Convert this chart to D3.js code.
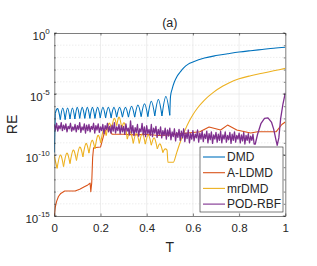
<!DOCTYPE html>
<html>
<head>
  <meta charset="utf-8">
  <title>RE</title>
  <style>
    body{margin:0;background:#fff;}
    text{font-family:"Liberation Sans",Arial,sans-serif;fill:#262626;}
  </style>
  <script src="https://d3js.org/d3.v7.min.js"></script>
</head>
<body>
  <script>
    // ----- data (log10 of RE) -----
    var xTicks = [0, 0.2, 0.4, 0.6, 0.8, 1];
    var xTickLabels = ['0', '0.2', '0.4', '0.6', '0.8', '1'];
    var yTickExp = [0, -5, -10, -15];
    var seriesNames = ['DMD', 'A-LDMD', 'mrDMD', 'POD-RBF'];
    var seriesColors = ['#0072BD', '#D95319', '#EDB120', '#7E2F8E'];

    // DMD: lead-in, arches (cusp / peak), then smooth growth
    var dmdLead = [[0, -9.8], [0.004, -6.6]];
    var dmdCuspT = [0.004, 0.026, 0.047, 0.068, 0.089, 0.110, 0.132, 0.154, 0.176, 0.199, 0.222,
                    0.246, 0.270, 0.295, 0.321, 0.348, 0.376, 0.405, 0.435, 0.466, 0.500];
    var dmdCuspLog = [-6.6, -7.1, -7.1, -7.05, -7.05, -7.0, -7.0, -7.0, -7.0, -6.95, -6.95,
                      -6.95, -6.9, -6.9, -6.9, -6.9, -6.85, -6.85, -6.8, -6.8, -6.75];
    var dmdPeakLog = [-6.2, -6.15, -6.15, -6.15, -6.1, -6.1, -6.1, -6.1, -6.1, -6.1,
                      -6.1, -6.1, -6.1, -6.1, -6.0, -5.9, -5.8, -5.6, -5.45, -5.2];
    var dmdTail = [[0.5, -6.75], [0.503, -5.2], [0.51, -4.6], [0.52, -4.0], [0.53, -3.6], [0.545, -3.2],
                   [0.56, -2.85], [0.58, -2.55], [0.6, -2.38], [0.65, -2.05], [0.7, -1.85], [0.75, -1.7],
                   [0.8, -1.56], [0.85, -1.45], [0.9, -1.35], [0.95, -1.25], [1.0, -1.17]];

    // A-LDMD
    var aldmd = [[0, -15], [0.004, -14.3], [0.01, -13.8], [0.018, -13.4], [0.028, -13.15], [0.045, -12.95],
                 [0.07, -12.95], [0.09, -12.95], [0.11, -12.8], [0.13, -12.6], [0.145, -12.45], [0.155, -12.3],
                 [0.158, -13.0], [0.162, -12.3], [0.166, -10.2], [0.17, -9.4], [0.2, -9.35], [0.205, -9.0],
                 [0.215, -8.3], [0.23, -7.7], [0.24, -7.9], [0.25, -8.3], [0.3, -8.3], [0.35, -8.35],
                 [0.4, -8.3], [0.45, -8.4], [0.5, -8.35], [0.55, -8.25], [0.6, -8.15], [0.63, -8.1],
                 [0.67, -7.7], [0.72, -7.95], [0.75, -7.55], [0.79, -7.95], [0.85, -8.2], [0.88, -8.1],
                 [0.96, -8.1], [0.985, -7.5], [1.0, -7.3]];

    // mrDMD: lead-in, arches, then dip and growth
    var mrLead = [[0, -10.1], [0.012, -11.1]];
    var mrCuspT = [0.012, 0.040, 0.068, 0.096, 0.124, 0.150, 0.176, 0.201, 0.225, 0.248,
                   0.270, 0.292, 0.316, 0.342, 0.368, 0.394, 0.420, 0.446, 0.470];
    var mrCuspLog = [-11.1, -10.95, -10.7, -10.45, -10.15, -9.85, -9.5, -9.0, -8.4, -7.9,
                     -7.6, -7.8, -8.7, -9.05, -9.05, -9.1, -9.2, -9.5, -9.8];
    var mrPeakLog = [-10.0, -9.85, -9.6, -9.35, -9.05, -8.8, -8.4, -7.95, -7.4, -7.0,
                     -6.9, -7.4, -8.1, -8.2, -8.25, -8.35, -8.6, -9.1];
    var mrTail = [[0.470, -9.8], [0.48, -9.5], [0.488, -9.6], [0.492, -10.6], [0.515, -10.6], [0.53, -9.8],
                  [0.545, -8.95], [0.565, -8.0], [0.585, -7.2], [0.6, -6.7], [0.62, -6.15], [0.65, -5.5],
                  [0.69, -4.85], [0.73, -4.35], [0.76, -4.05], [0.8, -3.75], [0.85, -3.5], [0.9, -3.3],
                  [0.95, -3.1], [1.0, -2.9]];

    // POD-RBF: noisy samples every 0.005 from T=0 to 0.865, then the late bump
    var podStep = 0.005;
    var podNoise = [
      -7.5, -7.95, -7.4, -8.05, -7.6, -7.85, -7.35, -8.0, -7.55, -7.9,
      -7.45, -8.1, -7.65, -7.85, -7.4, -8.05, -7.7, -7.95, -7.5, -8.1,
      -7.6, -7.9, -7.35, -8.15, -7.7, -7.95, -7.45, -8.2, -7.55, -8.0,
      -7.5, -8.1, -7.65, -7.9, -7.4, -8.2, -7.6, -7.95, -7.45, -8.15,
      -7.7, -8.0, -7.5, -8.25, -7.6, -7.9, -7.4, -8.1, -7.65, -8.2,
      -7.55, -8.05, -7.35, -8.2, -7.7, -8.0, -7.5, -8.25, -7.6, -8.1,
      -7.65, -8.3, -7.45, -8.05, -7.8, -8.35, -7.2, -8.2, -7.6, -8.4,
      -7.75, -8.15, -7.5, -8.45, -7.85, -8.1, -7.4, -8.35, -7.7, -8.5,
      -7.6, -8.25, -7.9, -8.4, -7.5, -8.5, -7.8, -8.2, -7.65, -8.55,
      -7.9, -8.35, -7.7, -8.6, -8.0, -8.4, -7.8, -8.7, -7.95, -8.45,
      -7.8, -8.75, -8.1, -8.5, -7.85, -8.85, -8.15, -8.55, -7.9, -8.8,
      -8.05, -8.6, -7.85, -8.9, -8.2, -8.65, -7.95, -9.0, -8.25, -8.7,
      -8.0, -8.85, -8.3, -8.6, -7.95, -8.95, -8.2, -8.7, -8.05, -8.9,
      -8.3, -8.65, -8.05, -9.0, -8.25, -8.75, -8.1, -9.05, -8.35, -8.7,
      -8.15, -8.95, -8.3, -8.8, -8.05, -9.0, -8.35, -8.7, -8.1, -8.95,
      -8.4, -8.75, -8.15, -9.05, -8.3, -8.8, -8.1, -8.95, -8.4, -8.7,
      -8.2, -9.0, -8.35, -8.85, -8.15, -9.1, -8.4, -8.8, -8.25, -9.0,
      -8.45, -8.8, -8.3, -9.1];
    var podTail = [[0.87, -9.1], [0.88, -8.3], [0.895, -7.4], [0.91, -7.0], [0.925, -6.95], [0.94, -7.3],
                   [0.95, -7.9], [0.96, -8.8], [0.965, -9.2], [0.972, -8.6], [0.98, -7.0], [0.99, -5.8],
                   [1.0, -4.9]];

    // ----- layout -----
    var width = 317, height = 266;
    var mLeft = 54.3, mRight = 285.3, mTop = 33, mBottom = 216;

    var svg = d3.select('body').append('svg')
      .attr('width', width).attr('height', height);

    var x = d3.scaleLinear().domain([0, 1]).range([mLeft, mRight]);
    var y = d3.scaleLog().domain([1e-15, 1]).range([mBottom, mTop]);
    var px = d => x(d[0]);
    var py = d => y(Math.pow(10, d[1]));
    var ye = e => y(Math.pow(10, e));

    // grid
    var decades = d3.range(-15, 1);
    svg.append('g').selectAll('line')
      .data(decades.filter(e => e % 5 != 0))
      .enter().append('line')
      .attr('x1', mLeft).attr('x2', mRight)
      .attr('y1', ye).attr('y2', ye)
      .attr('stroke', '#d4d4d4').attr('stroke-width', 0.6)
      .attr('stroke-dasharray', '1,2');
    svg.append('g').selectAll('line')
      .data(yTickExp.slice(1, 3))
      .enter().append('line')
      .attr('x1', mLeft).attr('x2', mRight)
      .attr('y1', ye).attr('y2', ye)
      .attr('stroke', '#e0e0e0').attr('stroke-width', 0.6);
    svg.append('g').selectAll('line')
      .data(xTicks.slice(1, 5))
      .enter().append('line')
      .attr('x1', d => x(d)).attr('x2', d => x(d))
      .attr('y1', mTop).attr('y2', mBottom)
      .attr('stroke', '#e0e0e0').attr('stroke-width', 0.6);

    // clip
    svg.append('clipPath').attr('id', 'plot')
      .append('rect').attr('x', mLeft).attr('y', mTop)
      .attr('width', mRight - mLeft).attr('height', mBottom - mTop);
    var plot = svg.append('g').attr('clip-path', 'url(#plot)');

    var linear = d3.line().x(px).y(py);
    var smooth = d3.line().x(px).y(py).curve(d3.curveMonotoneX);
    var arch = d3.line().x(px).y(py).curve(d3.curveNatural);

    function drawArches(g, cuspT, cuspLog, peakLog, color) {
      for (var i = 0; i < peakLog.length; i++) {
        var pts = [[cuspT[i], cuspLog[i]],
                   [(cuspT[i] + cuspT[i + 1]) / 2, peakLog[i]],
                   [cuspT[i + 1], cuspLog[i + 1]]];
        g.append('path').attr('d', arch(pts))
          .attr('fill', 'none').attr('stroke', color).attr('stroke-width', 1.1);
      }
    }
    function drawPath(g, gen, pts, color, w) {
      g.append('path').attr('d', gen(pts))
        .attr('fill', 'none').attr('stroke', color).attr('stroke-width', w || 1.1)
        .attr('stroke-linejoin', 'round');
    }

    // DMD
    drawPath(plot, linear, dmdLead, seriesColors[0]);
    drawArches(plot, dmdCuspT, dmdCuspLog, dmdPeakLog, seriesColors[0]);
    drawPath(plot, smooth, dmdTail, seriesColors[0]);
    // A-LDMD
    drawPath(plot, linear, aldmd, seriesColors[1]);
    // mrDMD
    drawPath(plot, linear, mrLead, seriesColors[2]);
    drawArches(plot, mrCuspT, mrCuspLog, mrPeakLog, seriesColors[2]);
    drawPath(plot, smooth, mrTail, seriesColors[2]);
    // POD-RBF
    var podPts = podNoise.map((v, i) => [i * podStep, v]).concat(podTail);
    drawPath(plot, linear, podPts, seriesColors[3], 1.3);

    // axes
    var axisColor = '#262626';
    function styleAxis(g) {
      g.select('.domain').attr('stroke', axisColor).attr('stroke-width', 0.6);
      g.selectAll('.tick line').attr('stroke', axisColor).attr('stroke-width', 0.6);
      g.selectAll('.tick text').style('font-size', '11.5px').attr('fill', axisColor)
        .style('font-family', '"Liberation Sans",Arial,sans-serif');
    }
    var xb = svg.append('g').attr('transform', 'translate(0,' + mBottom + ')')
      .call(d3.axisBottom(x).tickValues(xTicks).tickSizeInner(-2.5).tickSizeOuter(0).tickPadding(8)
        .tickFormat((d, i) => xTickLabels[i]));
    styleAxis(xb);
    var xt = svg.append('g').attr('transform', 'translate(0,' + mTop + ')')
      .call(d3.axisTop(x).tickValues(xTicks).tickSizeInner(-2.5).tickSizeOuter(0).tickFormat(''));
    styleAxis(xt);
    var yl = svg.append('g').attr('transform', 'translate(' + mLeft + ',0)')
      .call(d3.axisLeft(y).tickValues(decades.map(e => Math.pow(10, e)))
        .tickSizeInner(-1.5).tickSizeOuter(0).tickFormat(''));
    styleAxis(yl);
    var yr = svg.append('g').attr('transform', 'translate(' + mRight + ',0)')
      .call(d3.axisRight(y).tickValues(decades.map(e => Math.pow(10, e)))
        .tickSizeInner(-1.5).tickSizeOuter(0).tickFormat(''));
    styleAxis(yr);
    // longer major ticks on y
    [mLeft, mRight].forEach(function (ax) {
      svg.append('g').selectAll('line').data(yTickExp).enter().append('line')
        .attr('x1', ax).attr('x2', ax == mLeft ? ax + 2.5 : ax - 2.5)
        .attr('y1', ye).attr('y2', ye)
        .attr('stroke', axisColor).attr('stroke-width', 0.6);
    });

    // y tick labels 10^e
    var yLab = svg.append('g').selectAll('text').data(yTickExp).enter().append('text')
      .attr('x', mLeft - 4.5)
      .attr('y', e => ye(e) + 6.5)
      .attr('text-anchor', 'end')
      .style('font-size', '11.5px');
    yLab.append('tspan').text('10');
    yLab.append('tspan').attr('dy', -5.5).style('font-size', '8px').text(e => e == 0 ? '0' : '-' + (-e));

    // titles
    svg.append('text').attr('x', (mLeft + mRight) / 2).attr('y', 27)
      .attr('text-anchor', 'middle').style('font-size', '12.5px').text('(a)');
    svg.append('text').attr('x', (mLeft + mRight) / 2).attr('y', 252)
      .attr('text-anchor', 'middle').style('font-size', '14px').text('T');
    svg.append('text').attr('transform', 'translate(17,' + ((mTop + mBottom) / 2) + ') rotate(-90)')
      .attr('text-anchor', 'middle').style('font-size', '14px').text('RE');

    // legend
    var lg = svg.append('g');
    lg.append('rect').attr('x', 200).attr('y', 147).attr('width', 83).attr('height', 65)
      .attr('fill', '#fff').attr('stroke', axisColor).attr('stroke-width', 0.6);
    var items = lg.selectAll('g.item').data(seriesNames).enter().append('g')
      .attr('transform', (d, i) => 'translate(0,' + (157 + i * 15.7) + ')');
    items.append('line').attr('x1', 203).attr('x2', 225).attr('y1', 0).attr('y2', 0)
      .attr('stroke', (d, i) => seriesColors[i]).attr('stroke-width', 1.1);
    items.append('text').attr('x', 227).attr('y', 4.3).style('font-size', '12px').text(d => d);
  </script>
</body>
</html>
